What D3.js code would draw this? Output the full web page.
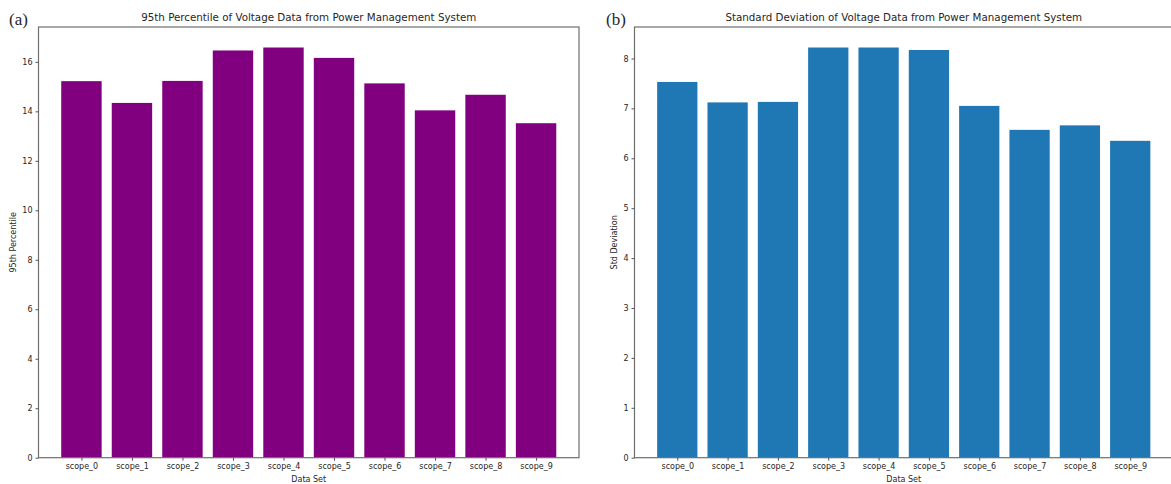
<!DOCTYPE html>
<html>
<head>
<meta charset="utf-8">
<script src="https://cdn.jsdelivr.net/npm/d3@7"></script>
<style>
  html, body { margin: 0; padding: 0; background: #fff; }
  svg { display: block; }
  text { font-family: "DejaVu Sans", sans-serif; fill: #262626; }
</style>
</head>
<body>
<svg id="chart" width="1171" height="484"></svg>
<script>
// Data sets measured by the power management system
const categories = ["scope_0", "scope_1", "scope_2", "scope_3", "scope_4",
                    "scope_5", "scope_6", "scope_7", "scope_8", "scope_9"];
// 95th percentile of voltage per data set
const p95Values = [15.22, 14.34, 15.23, 16.46, 16.58, 16.16, 15.13, 14.04, 14.67, 13.52];
// Standard deviation of voltage per data set
const stdValues = [7.53, 7.12, 7.13, 8.22, 8.22, 8.17, 7.05, 6.57, 6.66, 6.35];
const p95Ticks = [0, 2, 4, 6, 8, 10, 12, 14, 16];
const stdTicks = [0, 1, 2, 3, 4, 5, 6, 7, 8];

const svg = d3.select("#chart");

function panel(opts) {
  const { left, right, top, bottom, values, ticks, color, title, ylabel, tag, tagX, ylabelX } = opts;
  const g = svg.append("g");

  // Category positions: bars 0.8 wide, 0.45 padding beyond outer bars
  const n = categories.length;
  const x = d3.scaleLinear().domain([-0.85, n - 1 + 0.85]).range([left, right]);
  const yMax = d3.max(values) * 1.05;
  const y = d3.scaleLinear().domain([0, yMax]).range([bottom, top]);

  g.selectAll("rect.bar")
    .data(values)
    .join("rect")
    .attr("class", "bar")
    .attr("x", (d, i) => x(i - 0.4))
    .attr("width", (d, i) => x(i + 0.4) - x(i - 0.4))
    .attr("y", d => y(d))
    .attr("height", d => y(0) - y(d))
    .attr("fill", color);

  // Frame
  g.append("rect")
    .attr("x", left).attr("y", top)
    .attr("width", right - left).attr("height", bottom - top)
    .attr("fill", "none").attr("stroke", "#6e6e6e").attr("stroke-width", 1.2);

  // Y axis
  const yAxis = d3.axisLeft(y).tickValues(ticks).tickSize(3).tickPadding(3).tickFormat(d3.format("d"));
  const ya = g.append("g").attr("transform", `translate(${left},0)`).call(yAxis);
  ya.select(".domain").remove();
  ya.selectAll("line").attr("stroke", "#555");
  ya.selectAll("text").style("font-size", "8px").attr("fill", "#262626");

  // X axis
  const xAxis = d3.axisBottom(x).tickValues(d3.range(n)).tickSize(3).tickPadding(3)
    .tickFormat(i => categories[i]);
  const xa = g.append("g").attr("transform", `translate(0,${bottom})`).call(xAxis);
  xa.select(".domain").remove();
  xa.selectAll("line").attr("stroke", "#555");
  xa.selectAll("text").style("font-size", "8px").attr("fill", "#262626");

  // Titles and labels
  g.append("text")
    .attr("x", (left + right) / 2).attr("y", 21)
    .attr("text-anchor", "middle").style("font-size", "10.3px")
    .text(title);

  g.append("text")
    .attr("x", (left + right) / 2).attr("y", 482)
    .attr("text-anchor", "middle").style("font-size", "8px")
    .text("Data Set");

  g.append("text")
    .attr("transform", `translate(${ylabelX},${(top + bottom) / 2}) rotate(-90)`)
    .attr("text-anchor", "middle").style("font-size", "8px")
    .text(ylabel);

  g.append("text")
    .attr("x", tagX).attr("y", 25)
    .style("font-family", "'Liberation Serif', 'Times New Roman', serif")
    .style("font-size", "17px").attr("fill", "#111")
    .text(tag);
}

panel({
  left: 38.5, right: 579, top: 27, bottom: 457.7,
  values: p95Values, ticks: p95Ticks, color: "#800080",
  title: "95th Percentile of Voltage Data from Power Management System",
  ylabel: "95th Percentile", tag: "(a)", tagX: 9, ylabelX: 15.5
});

panel({
  left: 634.5, right: 1173, top: 27, bottom: 457.7,
  values: stdValues, ticks: stdTicks, color: "#1f77b4",
  title: "Standard Deviation of Voltage Data from Power Management System",
  ylabel: "Std Deviation", tag: "(b)", tagX: 606, ylabelX: 617
});
</script>
</body>
</html>
